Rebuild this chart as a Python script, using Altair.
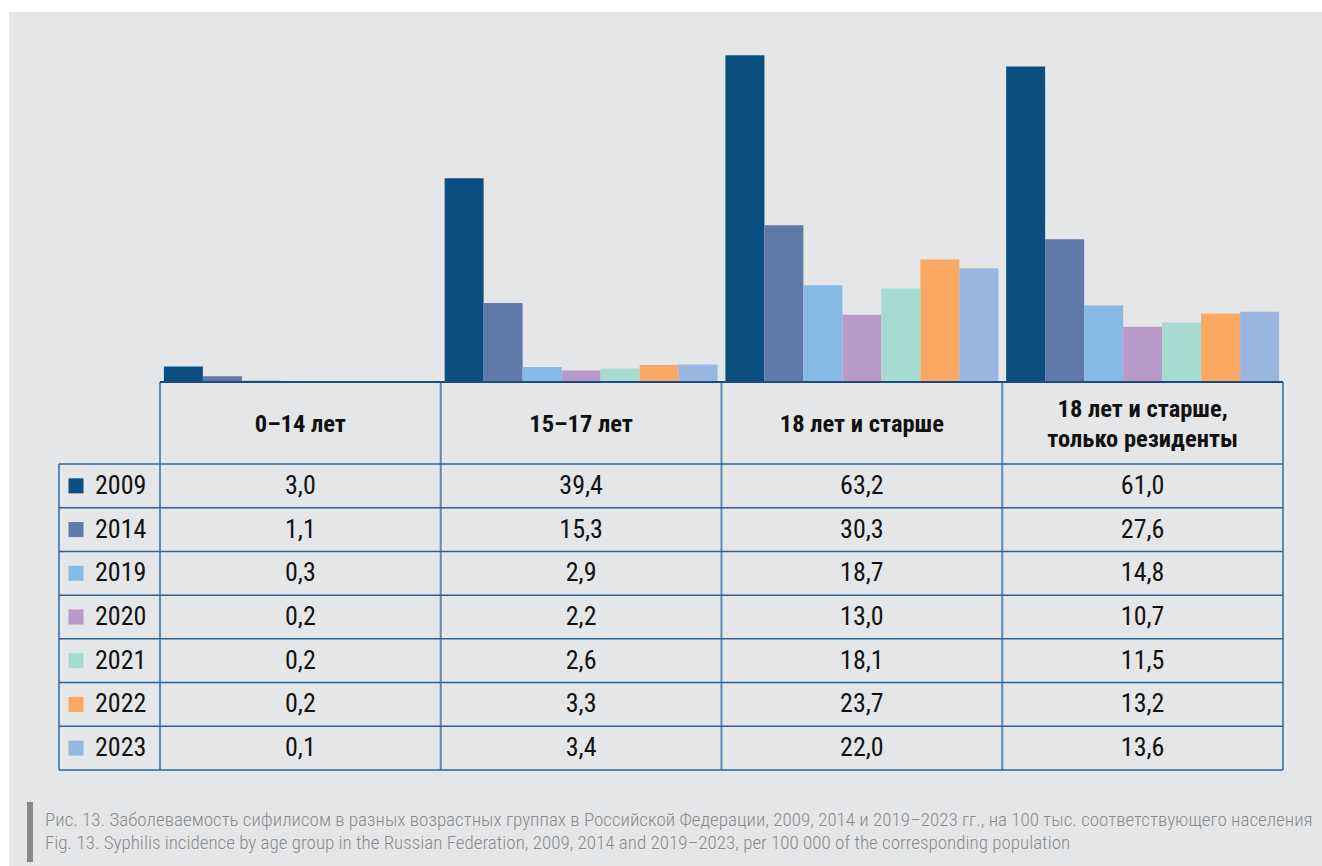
import altair as alt
import pandas as pd

# ---- data ----
groups = ["0–14", "15–17", "18+", "18+res"]
group_titles = ["0–14 лет", "15–17 лет", "18 лет и старше", "18 лет и старше,\nтолько резиденты"]
years = ["2009", "2014", "2019", "2020", "2021", "2022", "2023"]
v2009 = [3.0, 39.4, 63.2, 61.0]
v2014 = [1.1, 15.3, 30.3, 27.6]
v2019 = [0.3, 2.9, 18.7, 14.8]
v2020 = [0.2, 2.2, 13.0, 10.7]
v2021 = [0.2, 2.6, 18.1, 11.5]
v2022 = [0.2, 3.3, 23.7, 13.2]
v2023 = [0.1, 3.4, 22.0, 13.6]
series = [v2009, v2014, v2019, v2020, v2021, v2022, v2023]
colors = ["#0b4f80", "#5f7aa9", "#86b9e4", "#b89ac8", "#a6dbd1", "#f9a963", "#98b6df"]

caption_ru = ("Рис. 13. Заболеваемость сифилисом в разных возрастных группах в Российской Федерации, "
              "2009, 2014 и 2019–2023 гг., на 100 тыс. соответствующего населения")
caption_en = ("Fig. 13. Syphilis incidence by age group in the Russian Federation, "
              "2009, 2014 and 2019–2023, per 100 000 of the corresponding population")

rows = []
for y, vals in zip(years, series):
    for g, v in zip(groups, vals):
        rows.append({"group": g, "year": y, "value": v, "label": f"{v:.1f}".replace(".", ",")})
df = pd.DataFrame(rows)
hdr = pd.DataFrame({"group": groups, "title": group_titles})
yrs = pd.DataFrame({"year": years})

# ---- layout (pixels) ----
W, H = 1322, 866
COL_X0, COL_X1 = 160, 1283          # table columns / bar area
LEG_X0 = 59                          # left edge of the legend column
BASE_Y = 382                         # bar baseline = top of table
HDR_Y1 = 464                         # bottom of header row
TAB_Y1 = 770                         # bottom of table
HDR_LINE = 30                        # line height of header text
FONT = "Liberation Sans Narrow, Roboto Condensed, Roboto, sans-serif"
BG = "#e5e6e8"

x_grp = alt.X("group:N", sort=groups, axis=None,
              scale=alt.Scale(domain=groups, range=[COL_X0, COL_X1], paddingInner=0, paddingOuter=0))
y_row = alt.Y("year:N", sort=years, axis=None,
              scale=alt.Scale(domain=years, range=[HDR_Y1, TAB_Y1], paddingInner=0, paddingOuter=0))
color = alt.Color("year:N", sort=years, legend=None, scale=alt.Scale(domain=years, range=colors))

one = alt.Data(values=[{}])

background = alt.Chart(one).mark_rect(fill=BG).encode(
    x=alt.value(9), x2=alt.value(W), y=alt.value(12), y2=alt.value(H))

bars = alt.Chart(df).mark_bar().encode(
    x=x_grp,
    xOffset=alt.XOffset("year:N", sort=years,
                        scale=alt.Scale(domain=years, paddingInner=0, paddingOuter=0.1)),
    y=alt.Y("value:Q", axis=None, scale=alt.Scale(domain=[0, 70], range=[BASE_Y, 20])),
    y2=alt.datum(0),
    color=color,
)

# table grid
n = len(years)
row_h = (TAB_Y1 - HDR_Y1) / n
h_lines = [{"x": LEG_X0, "x2": COL_X1, "y": HDR_Y1 + i * row_h, "y2": HDR_Y1 + i * row_h} for i in range(n + 1)]
col_w = (COL_X1 - COL_X0) / len(groups)
v_lines = [{"x": COL_X0 + i * col_w, "x2": COL_X0 + i * col_w, "y": BASE_Y, "y2": TAB_Y1} for i in range(len(groups) + 1)]
v_lines.append({"x": LEG_X0, "x2": LEG_X0, "y": HDR_Y1, "y2": TAB_Y1})
top_line = [{"x": COL_X0, "x2": COL_X1, "y": BASE_Y, "y2": BASE_Y}]


def rules(vals, stroke, width):
    return alt.Chart(alt.Data(values=vals)).mark_rule(stroke=stroke, strokeWidth=width).encode(
        x=alt.X("x:Q", scale=None), x2="x2:Q",
        y=alt.Y("y:Q", scale=None), y2="y2:Q")


vgrid = rules(v_lines, "#5f88bb", 2)
hgrid = rules(h_lines, "#2d5f98", 1.5)
topgrid = rules(top_line, "#1d4c80", 2)

# header text: multi-line titles are centred as a block in the header row
hdr_mid = (BASE_Y + HDR_Y1) / 2 + 2
headers = alt.Chart(hdr).transform_calculate(
    nlines="length(split(datum.title, '\\n'))",
    ty=f"{hdr_mid} - (datum.nlines - 1) * {HDR_LINE} / 2",
).mark_text(font=FONT, fontSize=24.5, fontWeight="bold", color="#111111",
            lineBreak="\n", lineHeight=HDR_LINE, baseline="middle").encode(
    x=x_grp, y=alt.Y("ty:Q", scale=None, axis=None), text="title:N")

cells = alt.Chart(df).mark_text(font=FONT, fontSize=26, color="#111111", baseline="middle").encode(
    x=x_grp, y=y_row, text="label:N")

squares = alt.Chart(yrs).mark_square(size=225, opacity=1).encode(
    x=alt.value(76), y=y_row, color=color)

year_labels = alt.Chart(yrs).mark_text(font=FONT, fontSize=26, color="#111111", align="left",
                                       baseline="middle").encode(
    x=alt.value(95), y=y_row, text="year:N")

cap_bar = alt.Chart(one).mark_rect(fill="#8a8a8a").encode(
    x=alt.value(27), x2=alt.value(33), y=alt.value(802), y2=alt.value(862))
cap1 = alt.Chart(one).mark_text(font=FONT, fontSize=19, fontWeight=300, color="#8a8a8a", align="left",
                                baseline="alphabetic").encode(
    x=alt.value(45), y=alt.value(826), text=alt.value(caption_ru))
cap2 = alt.Chart(one).mark_text(font=FONT, fontSize=19, fontWeight=300, color="#8a8a8a", align="left",
                                baseline="alphabetic").encode(
    x=alt.value(45), y=alt.value(849), text=alt.value(caption_en))

chart = alt.layer(
    background, bars, vgrid, hgrid, topgrid, headers, cells, squares, year_labels, cap_bar, cap1, cap2
).resolve_scale(
    x="independent", y="independent"
).properties(
    width=W, height=H, padding=0, background="white",
    autosize=alt.AutoSizeParams(type="none"),
).configure_view(stroke=None)

chart.save("out.html", embed_options={"renderer": "svg", "actions": False})
